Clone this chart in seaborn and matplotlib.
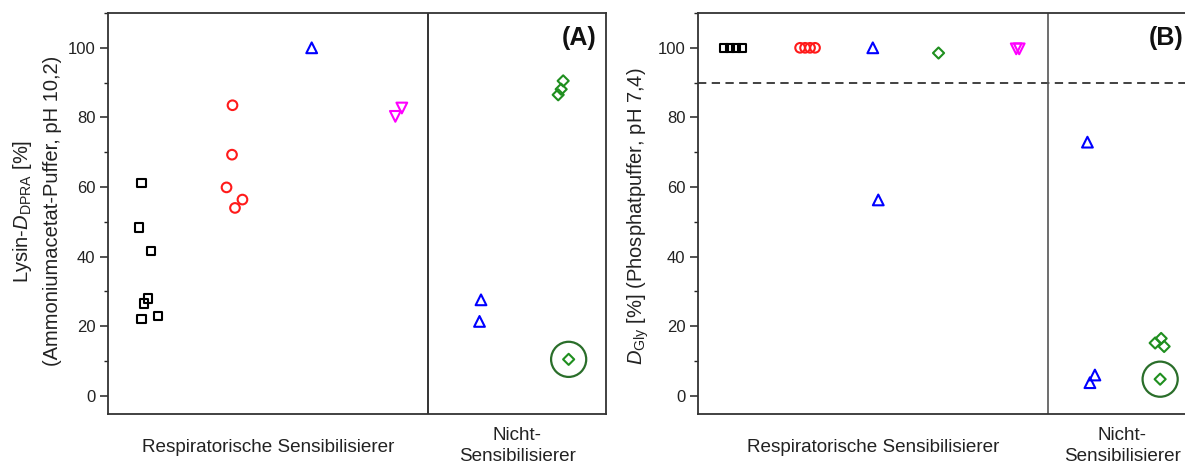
import numpy as np
import pandas as pd
import matplotlib
matplotlib.use("Agg")
import matplotlib.pyplot as plt
import matplotlib.transforms as mtransforms
from matplotlib.ticker import MultipleLocator
import seaborn as sns

# ---------------- data ----------------
# Panel A: Lysin-D_DPRA (x = jittered position within category region, y = value in %)
a_black_x = [0.67, 0.62, 0.86, 0.80, 0.72, 0.67, 1.00]
a_black_y = [61.1, 48.4, 41.7, 28.0, 26.5, 22.0, 23.0]
a_red_x = [2.50, 2.49, 2.38, 2.70, 2.55]
a_red_y = [83.5, 69.3, 59.9, 56.4, 54.0]
a_blue_x = [4.09]
a_blue_y = [100.0]
a_magenta_x = [5.90, 5.77]
a_magenta_y = [82.7, 80.3]
a_ns_blue_x = [7.49, 7.46]
a_ns_blue_y = [27.6, 21.4]
a_ns_green_x = [9.14, 9.10, 9.04]
a_ns_green_y = [90.5, 88.1, 86.5]
a_circled_x = [9.25]
a_circled_y = [10.5]

# Panel B: D_Gly
b_black_x = [0.52, 0.64, 0.76, 0.88]
b_black_y = [100.0, 100.0, 100.0, 100.0]
b_red_x = [2.05, 2.15, 2.25, 2.35]
b_red_y = [100.0, 100.0, 100.0, 100.0]
b_blue_x = [3.51, 3.62]
b_blue_y = [100.0, 56.3]
b_green_x = [4.83]
b_green_y = [98.5]
b_magenta_x = [6.39, 6.45]
b_magenta_y = [99.7, 99.7]
b_ns_blue_x = [7.82, 7.87, 7.97]
b_ns_blue_y = [72.9, 3.8, 6.0]
b_ns_green_x = [9.30, 9.18, 9.36]
b_ns_green_y = [16.5, 15.2, 14.2]
b_circled_x = [9.28]
b_circled_y = [4.8]

threshold_b = 90
divider_a = 6.43
divider_b = 7.03

cat_labels = ["Respiratorische Sensibilisierer", "Nicht-\nSensibilisierer"]
panel_labels = ["(A)", "(B)"]
ylabel_a = [r"Lysin-$\mathit{D}_\mathregular{DPRA}$ [%]", "(Ammoniumacetat-Puffer, pH 10,2)"]
ylabel_b = r"$\mathit{D}_\mathregular{Gly}$ [%] (Phosphatpuffer, pH 7,4)"
yticks = [0, 20, 40, 60, 80, 100]

# ---------------- style ----------------
sns.set_style("white")
plt.rcParams["font.family"] = ["Liberation Sans", "DejaVu Sans"]
plt.rcParams["mathtext.fontset"] = "custom"
plt.rcParams["mathtext.rm"] = "Liberation Sans"
plt.rcParams["mathtext.it"] = "Liberation Sans:italic"
plt.rcParams["mathtext.bf"] = "Liberation Sans:bold"

W, H = 1185, 468
fig = plt.figure(figsize=(W / 100, H / 100), dpi=100)

def px_axes(l, r, t, b):
    return fig.add_axes([l / W, 1 - b / H, (r - l) / W, (b - t) / H])

axA = px_axes(108, 606, 13, 414)
axB = px_axes(698, 1196, 13, 414)

GREEN = "#1f8f1f"
CIRCLE = "#2a6e2a"
styles = {
    "black": ("s", "black", 36),
    "red": ("o", "#ff1a1a", 48),
    "blue": ("^", "#0000ff", 60),
    "magenta": ("v", "#ff00ff", 60),
    "green": ("D", GREEN, 32),
}

def draw(ax, x, y, key):
    m, c, s = styles[key]
    df = pd.DataFrame({"x": x, "y": y})
    sns.scatterplot(data=df, x="x", y="y", ax=ax, marker=m, s=s,
                    facecolor="none", edgecolor=c, linewidth=1.5, zorder=3)

def circled(ax, x, y):
    df = pd.DataFrame({"x": x, "y": y})
    sns.scatterplot(data=df, x="x", y="y", ax=ax, marker="o", s=640,
                    facecolor="none", edgecolor=CIRCLE, linewidth=1.6, zorder=3)

draw(axA, a_black_x, a_black_y, "black")
draw(axA, a_red_x, a_red_y, "red")
draw(axA, a_blue_x, a_blue_y, "blue")
draw(axA, a_magenta_x, a_magenta_y, "magenta")
draw(axA, a_ns_blue_x, a_ns_blue_y, "blue")
draw(axA, a_ns_green_x, a_ns_green_y, "green")
draw(axA, a_circled_x, a_circled_y, "green")
circled(axA, a_circled_x, a_circled_y)

draw(axB, b_black_x, b_black_y, "black")
draw(axB, b_red_x, b_red_y, "red")
draw(axB, b_blue_x, b_blue_y, "blue")
draw(axB, b_green_x, b_green_y, "green")
draw(axB, b_magenta_x, b_magenta_y, "magenta")
draw(axB, b_ns_blue_x, b_ns_blue_y, "blue")
draw(axB, b_ns_green_x, b_ns_green_y, "green")
draw(axB, b_circled_x, b_circled_y, "green")
circled(axB, b_circled_x, b_circled_y)

axB.axhline(threshold_b, color="#333333", lw=1.3, ls=(0, (4.6, 3.0)), zorder=2)

for ax, div, divc, plabel, lab_x in [
    (axA, divider_a, "#111111", panel_labels[0], 9.81),
    (axB, divider_b, "#555555", panel_labels[1], 9.74),
]:
    ax.set_xlim(0, 10)
    ax.set_ylim(-5.2, 110)
    ax.axvline(div, color=divc, lw=1.2, zorder=2)
    ax.set_xticks([])
    ax.set_yticks(yticks)
    ax.yaxis.set_minor_locator(MultipleLocator(10))
    ax.tick_params(axis="y", which="major", left=True, direction="out",
                   length=6, width=1.1, labelsize=12, colors="#222222", pad=3)
    ax.tick_params(axis="y", which="minor", left=True, direction="out",
                   length=3, width=1.0, colors="#222222")
    for sp in ax.spines.values():
        sp.set_color("#333333")
        sp.set_linewidth(1.3)
        sp.set_visible(True)
    ax.set_xlabel("")
    ax.set_ylabel("")
    ax.text(lab_x, 102.9, plabel, ha="right", va="center",
            fontsize=18, fontweight="bold", color="#111111")
    trans = mtransforms.blended_transform_factory(ax.transData, fig.transFigure)
    ax.text(div / 2, 1 - 447 / H, cat_labels[0], transform=trans,
            ha="center", va="center", fontsize=13.6, color="#222222")
    ax.text((div + 10) / 2, 1 - 446 / H, cat_labels[1], transform=trans,
            ha="center", va="center", fontsize=13.6, color="#222222",
            linespacing=1.3)

fig.text(22 / W, 1 - 211 / H, ylabel_a[0], rotation=90, ha="center",
         va="center", fontsize=14.5, color="#222222")
fig.text(53 / W, 1 - 211 / H, ylabel_a[1], rotation=90, ha="center",
         va="center", fontsize=14.5, color="#222222")
fig.text(638 / W, 1 - 216 / H, ylabel_b, rotation=90, ha="center",
         va="center", fontsize=14.5, color="#222222")

fig.savefig("out.png", dpi=100)
